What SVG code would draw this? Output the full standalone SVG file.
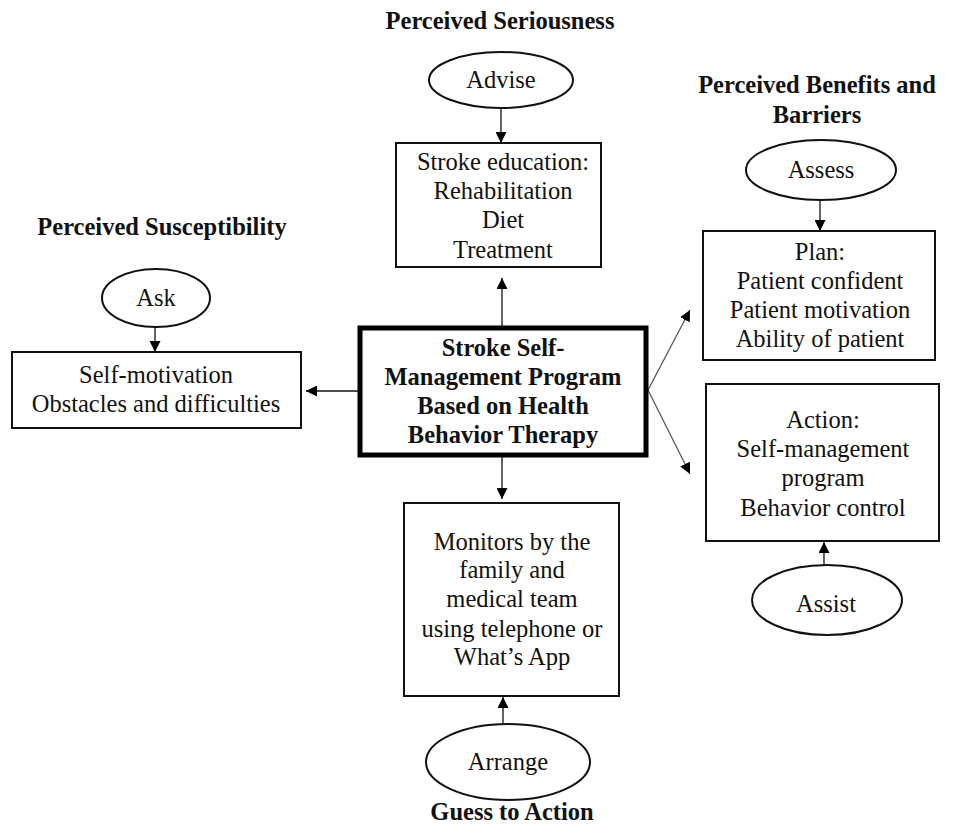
<svg xmlns="http://www.w3.org/2000/svg" width="954" height="825" viewBox="0 0 954 825">
<defs>
<style>
text{font-family:"Liberation Serif","Times New Roman",serif;font-size:24.5px;fill:#111;text-anchor:middle}
.b{font-weight:bold}
.box{fill:#fff;stroke:#111;stroke-width:2}
.main{fill:#fff;stroke:#000;stroke-width:5}
.ell{fill:#fff;stroke:#111;stroke-width:2}
.c{stroke:#111;stroke-width:1.3;fill:none}
.g{stroke:#555;stroke-width:1.3;fill:none}
</style>
<marker id="ah" viewBox="0 0 10 10" refX="10" refY="5" markerWidth="11" markerHeight="11" markerUnits="userSpaceOnUse" orient="auto">
<path d="M0,0 L10,5 L0,10 z" fill="#000"/>
</marker>
</defs>
<rect width="954" height="825" fill="#fff"/>

<g id="connectors">
<line class="c" x1="501" y1="108" x2="501" y2="143" marker-end="url(#ah)"/>
<line class="c" x1="155" y1="327" x2="155" y2="352" marker-end="url(#ah)"/>
<line class="c" x1="820" y1="200" x2="820" y2="231" marker-end="url(#ah)"/>
<line class="c" x1="502" y1="326" x2="502" y2="278" marker-end="url(#ah)"/>
<line class="c" x1="358" y1="391" x2="306" y2="391" marker-end="url(#ah)"/>
<line class="g" x1="648" y1="390" x2="690" y2="310" marker-end="url(#ah)"/>
<line class="g" x1="648" y1="390" x2="690" y2="474" marker-end="url(#ah)"/>
<line class="c" x1="502" y1="457" x2="502" y2="499" marker-end="url(#ah)"/>
<line class="c" x1="824" y1="565" x2="824" y2="542" marker-end="url(#ah)"/>
<line class="c" x1="503" y1="723" x2="503" y2="697" marker-end="url(#ah)"/>
</g>

<g id="title-seriousness"><text class="b" x="500" y="29">Perceived Seriousness</text></g>
<g id="advise">
<ellipse class="ell" cx="501" cy="80" rx="72" ry="28"/>
<text x="501" y="88">Advise</text>
</g>
<g id="stroke-education">
<rect class="box" x="396" y="143" width="205" height="124"/>
<text x="503" y="170">Stroke education:</text>
<text x="503" y="199">Rehabilitation</text>
<text x="503" y="228">Diet</text>
<text x="503" y="258">Treatment</text>
</g>

<g id="title-benefits">
<text class="b" x="817" y="93">Perceived Benefits and</text>
<text class="b" x="817" y="123">Barriers</text>
</g>
<g id="assess">
<ellipse class="ell" cx="821" cy="170" rx="75" ry="30"/>
<text x="821" y="178">Assess</text>
</g>
<g id="plan">
<rect class="box" x="703" y="231" width="232" height="129"/>
<text x="820" y="260">Plan:</text>
<text x="820" y="289">Patient confident</text>
<text x="820" y="318">Patient motivation</text>
<text x="820" y="347">Ability of patient</text>
</g>

<g id="title-susceptibility"><text class="b" x="162" y="235">Perceived Susceptibility</text></g>
<g id="ask">
<ellipse class="ell" cx="156" cy="298" rx="54" ry="29"/>
<text x="156" y="306">Ask</text>
</g>
<g id="self-motivation">
<rect class="box" x="12" y="352" width="289" height="76"/>
<text x="156" y="383">Self-motivation</text>
<text x="156" y="412">Obstacles and difficulties</text>
</g>

<g id="center">
<rect class="main" x="360" y="328" width="286" height="127"/>
<text class="b" x="503" y="356">Stroke Self-</text>
<text class="b" x="503" y="385">Management Program</text>
<text class="b" x="503" y="414">Based on Health</text>
<text class="b" x="503" y="443">Behavior Therapy</text>
</g>

<g id="action">
<rect class="box" x="706" y="384" width="233" height="157"/>
<text x="823" y="428">Action:</text>
<text x="823" y="457">Self-management</text>
<text x="823" y="486">program</text>
<text x="823" y="516">Behavior control</text>
</g>
<g id="assist">
<ellipse class="ell" cx="827" cy="600" rx="75" ry="35"/>
<text x="826" y="612">Assist</text>
</g>

<g id="monitors">
<rect class="box" x="404" y="503" width="215" height="193"/>
<text x="512" y="550">Monitors by the</text>
<text x="512" y="578">family and</text>
<text x="512" y="607">medical team</text>
<text x="512" y="637">using telephone or</text>
<text x="512" y="665">What’s App</text>
</g>
<g id="arrange">
<ellipse class="ell" cx="508" cy="762" rx="82" ry="38"/>
<text x="508" y="770">Arrange</text>
</g>
<g id="title-guess"><text class="b" x="512" y="820">Guess to Action</text></g>
</svg>
